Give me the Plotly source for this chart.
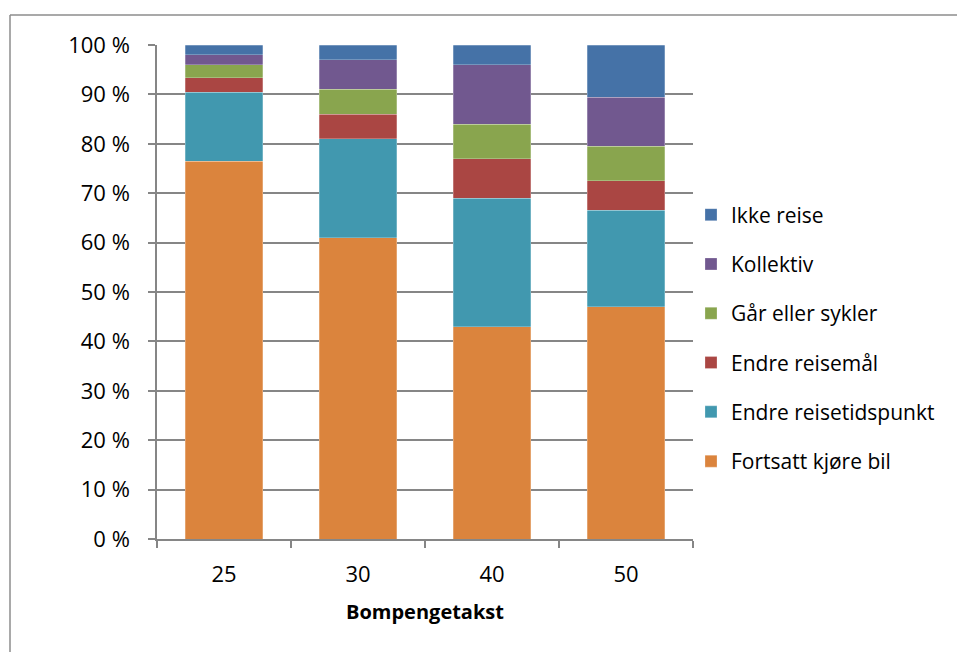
import plotly.graph_objects as go

# Bompengetakst (kr) og andel respondenter per valg (%)
takst = ["25", "30", "40", "50"]
fortsatt_kjore_bil = [76.5, 61.0, 43.0, 47.0]
endre_reisetidspunkt = [13.9, 20.0, 26.0, 19.5]
endre_reisemal = [3.0, 5.0, 8.0, 6.0]
gar_eller_sykler = [2.6, 5.0, 7.0, 7.0]
kollektiv = [2.0, 6.0, 12.0, 9.9]
ikke_reise = [2.0, 3.0, 4.0, 10.6]

series = [
    ("Fortsatt kjøre bil", fortsatt_kjore_bil, "#DB843D"),
    ("Endre reisetidspunkt", endre_reisetidspunkt, "#4198AF"),
    ("Endre reisemål", endre_reisemal, "#AA4643"),
    ("Går eller sykler", gar_eller_sykler, "#89A54E"),
    ("Kollektiv", kollektiv, "#71588F"),
    ("Ikke reise", ikke_reise, "#4572A7"),
]

FONT = "Open Sans, Noto Sans, sans-serif"

fig = go.Figure()
for i, (name, vals, color) in enumerate(series):
    fig.add_trace(go.Bar(
        x=takst, y=vals, name=name, legendgroup=name,
        legendrank=1000 - i,
        marker=dict(color=color, line=dict(color="rgba(255,255,255,0.5)", width=0.5)),
    ))

# page body adds an 8px offset, so margins are shifted to compensate
OFF = 8
W, H = 965, 652
L, R, T, B = 157 - OFF, 272 + OFF, 45 - OFF, 113 + OFF
pw, ph = W - L - R, H - T - B

fig.update_layout(
    width=W, height=H,
    barmode="stack", bargap=0.425,
    paper_bgcolor="white", plot_bgcolor="white",
    font=dict(family=FONT, size=22, color="#000000"),
    margin=dict(l=L, r=R, t=T, b=B),
    showlegend=True,
    legend=dict(
        traceorder="grouped", tracegroupgap=19,
        x=(691 - 157) / pw, xanchor="left",
        y=(539 - 338) / ph, yanchor="middle",
        font=dict(size=21), itemwidth=30,
        bgcolor="rgba(0,0,0,0)",
    ),
)
fig.update_xaxes(
    type="category", showline=True, linecolor="#868686", linewidth=1.5,
    ticks="outside", tickson="boundaries", ticklen=7, tickcolor="#868686", tickwidth=1.5,
    ticklabelstandoff=15,
    showgrid=False,
    title=dict(text="<b>Bompengetakst</b>", font=dict(size=20), standoff=18),
)
fig.update_yaxes(
    range=[0, 100], dtick=10, ticksuffix=" %",
    showline=True, linecolor="#868686", linewidth=1.5,
    ticks="outside", ticklen=7, tickcolor="#868686", tickwidth=1.5,
    ticklabelstandoff=14,
    showgrid=True, gridcolor="#868686", gridwidth=1.5,
    zeroline=False,
)

# outer chart border (top and left visible)
bx, by = 10, 15
fig.add_shape(type="line", xref="paper", yref="paper",
              x0=(bx - 157) / pw, x1=(W + 20 - 157) / pw,
              y0=(539 - by) / ph, y1=(539 - by) / ph,
              line=dict(color="#8C8C8C", width=1.5))
fig.add_shape(type="line", xref="paper", yref="paper",
              x0=(bx - 157) / pw, x1=(bx - 157) / pw,
              y0=(539 - by) / ph, y1=(539 - H - 20) / ph,
              line=dict(color="#8C8C8C", width=1.5))

fig.write_html("out.html")
